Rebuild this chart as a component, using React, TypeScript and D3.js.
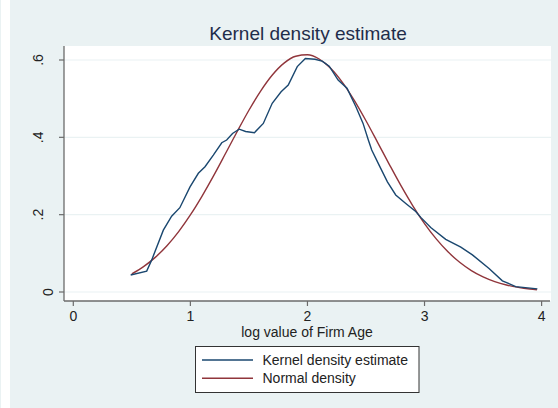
import React from "react";
import * as d3 from "d3";

const kdeX = [0.49, 0.627, 0.67, 0.769, 0.84, 0.91, 0.997, 1.068, 1.125, 1.196, 1.268, 1.31, 1.36, 1.417, 1.472, 1.547, 1.623, 1.699, 1.775, 1.836, 1.913, 1.982, 2.065, 2.125, 2.186, 2.262, 2.338, 2.414, 2.475, 2.52, 2.549, 2.612, 2.683, 2.754, 2.84, 2.925, 2.968, 3.053, 3.181, 3.31, 3.409, 3.551, 3.665, 3.779, 3.964];
const kdeY = [0.044, 0.054, 0.083, 0.16, 0.196, 0.218, 0.272, 0.307, 0.324, 0.354, 0.386, 0.393, 0.41, 0.421, 0.415, 0.412, 0.436, 0.488, 0.518, 0.535, 0.583, 0.604, 0.602, 0.597, 0.584, 0.548, 0.527, 0.479, 0.436, 0.393, 0.367, 0.328, 0.285, 0.251, 0.229, 0.208, 0.193, 0.167, 0.136, 0.116, 0.096, 0.061, 0.029, 0.014, 0.008];

const normX = [0.5, 0.6, 0.7, 0.8, 0.9, 1.0, 1.1, 1.2, 1.3, 1.4, 1.5, 1.6, 1.7, 1.8, 1.9, 2.0, 2.1, 2.2, 2.3, 2.4, 2.5, 2.6, 2.7, 2.8, 2.9, 3.0, 3.1, 3.2, 3.3, 3.4, 3.5, 3.6, 3.7, 3.8, 3.9, 3.96];
const normY = [0.0468, 0.0656, 0.0896, 0.1198, 0.1563, 0.1993, 0.2481, 0.3015, 0.3581, 0.4151, 0.47, 0.5197, 0.5613, 0.592, 0.6097, 0.6134, 0.6026, 0.5782, 0.5417, 0.4957, 0.4429, 0.3865, 0.3296, 0.2743, 0.223, 0.177, 0.1373, 0.1039, 0.0769, 0.0555, 0.0392, 0.027, 0.0181, 0.0119, 0.0076, 0.0058];

const xTicks = [0, 1, 2, 3, 4];
const xTickLabels = ["0", "1", "2", "3", "4"];
const yTicks = [0, 0.2, 0.4, 0.6];
const yTickLabels = ["0", ".2", ".4", ".6"];

const title = "Kernel density estimate";
const xTitle = "log value of Firm Age";
const seriesNames = ["Kernel density estimate", "Normal density"];
const seriesColors = ["#1a476f", "#90353b"];

export default function App() {
  const W = 558, H = 408;
  const plot = { left: 64, right: 551, top: 46, bottom: 301 };
  const x = d3.scaleLinear().domain([0, 4]).range([73.3, 541.6]);
  const y = d3.scaleLinear().domain([0, 0.6]).range([292, 60]);
  const font = "'Liberation Sans', Arial, sans-serif";
  const bg = "#eaf2f3";
  const axisColor = "#6b6b6b";

  const kde = kdeX.map((v, i) => [v, kdeY[i]] as [number, number]);
  const norm = normX.map((v, i) => [v, normY[i]] as [number, number]);
  const lineLin = d3.line<[number, number]>().x(d => x(d[0])).y(d => y(d[1]));
  const lineSmooth = d3.line<[number, number]>().x(d => x(d[0])).y(d => y(d[1])).curve(d3.curveMonotoneX);

  return (
    <svg width={W} height={H} style={{ position: "fixed", left: 0, top: 0, fontFamily: font }}>
      <rect x={0} y={0} width={W} height={H} fill="#ffffff" />
      <rect x={10} y={0} width={W - 10} height={H} fill={bg} />
      <rect x={0} y={0} width={1} height={H} fill={bg} />
      <rect x={plot.left} y={plot.top} width={plot.right - plot.left} height={plot.bottom - plot.top} fill="#ffffff" />
      {yTicks.map((t, i) => (
        <line key={"g" + i} x1={plot.left} x2={plot.right} y1={y(t)} y2={y(t)} stroke={bg} strokeWidth={1.2} />
      ))}
      <text x={308} y={40} textAnchor="middle" fontSize={19} fill="#1f2d4a">{title}</text>
      <path d={lineSmooth(norm) || ""} fill="none" stroke={seriesColors[1]} strokeWidth={1.4} />
      <path d={lineLin(kde) || ""} fill="none" stroke={seriesColors[0]} strokeWidth={1.4} />
      <line x1={plot.left} x2={plot.left} y1={plot.top} y2={plot.bottom} stroke={axisColor} strokeWidth={1.3} />
      <line x1={plot.left} x2={plot.right - 1} y1={plot.bottom} y2={plot.bottom} stroke={axisColor} strokeWidth={1.3} />
      {yTicks.map((t, i) => {
        const bx = yTickLabels[i] === "0" ? 53 : 43;
        return (
          <g key={"y" + i}>
            <line x1={59} x2={plot.left} y1={y(t)} y2={y(t)} stroke={axisColor} strokeWidth={1.2} />
            <text transform={`translate(${bx},${y(t)}) rotate(-90)`} textAnchor="middle" fontSize={14} fill="#222">{yTickLabels[i]}</text>
          </g>
        );
      })}
      {xTicks.map((t, i) => (
        <g key={"x" + i}>
          <line x1={x(t)} x2={x(t)} y1={plot.bottom} y2={plot.bottom + 5} stroke={axisColor} strokeWidth={1.2} />
          <text x={x(t)} y={320.5} textAnchor="middle" fontSize={14} fill="#222">{xTickLabels[i]}</text>
        </g>
      ))}
      <text x={307} y={336.5} textAnchor="middle" fontSize={14} fill="#222">{xTitle}</text>
      <rect x={195.5} y={346.5} width={223.5} height={46} fill="#ffffff" stroke="#333" strokeWidth={1} />
      {seriesNames.map((s, i) => (
        <g key={"l" + i}>
          <line x1={202} x2={253} y1={360 + i * 18.3} y2={360 + i * 18.3} stroke={seriesColors[i]} strokeWidth={1.4} />
          <text x={262.5} y={365 + i * 18.3} fontSize={14} fill="#222">{s}</text>
        </g>
      ))}
    </svg>
  );
}
